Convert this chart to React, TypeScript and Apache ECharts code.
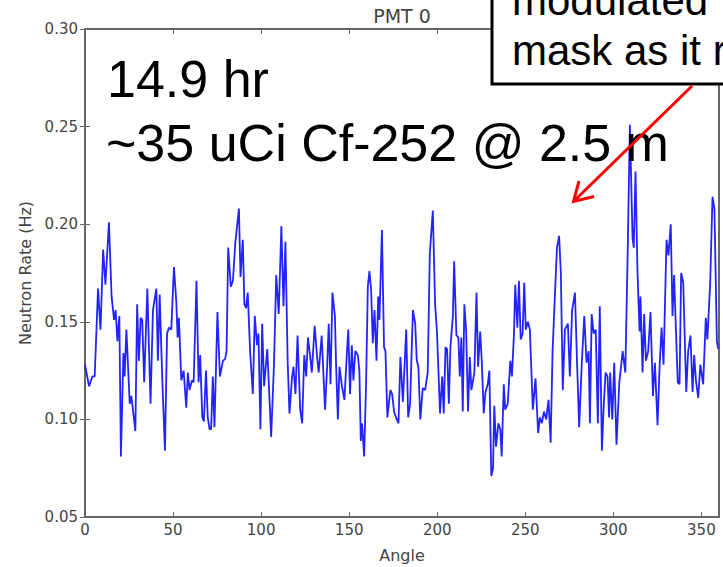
import React, { useEffect, useRef } from "react";
import * as echarts from "echarts";

// Angle (deg) and neutron rate (Hz)
const angles: number[] = [
  0, 2.3, 4.2, 5.5, 7.4, 8.8, 10.3, 11.6, 13.6, 15.1, 16.5, 17.4, 18.4, 19.5, 20.4, 21.8, 22.5, 23.5, 25.4, 26.3,
  28.6, 29.6, 30.6, 31.6, 32.5, 33.6, 35.4, 37.2, 38.6, 40.5, 41.4, 42.4, 43.9, 45.4, 46.6, 47.7, 49.0, 50.5, 51.8, 52.6,
  53.3, 54.7, 56.0, 57.5, 58.4, 59.4, 60.7, 61.7, 63.3, 64.5, 65.4, 66.6, 67.5, 68.7, 69.7, 70.7, 71.6, 72.6, 73.5, 75.2,
  76.6, 78.3, 79.6, 80.4, 81.3, 82.8, 84.0, 85.3, 87.4, 88.3, 89.6, 90.5, 91.5, 92.4, 93.8, 95.3, 96.4, 97.7, 98.5, 99.6,
  100.6, 101.7, 103.5, 105.7, 107.3, 108.6, 110.0, 111.5, 112.7, 113.8, 115.1, 116.1, 117.6, 118.4, 119.5, 120.7, 122.2, 123.3, 124.5, 125.6,
  126.6, 127.9, 128.8, 130.4, 131.8, 132.7, 134.4, 136.3, 137.5, 138.4, 139.4, 140.5, 141.9, 142.6, 143.6, 144.5, 145.9, 147.3, 148.7, 149.5,
  150.5, 151.5, 152.4, 153.5, 154.9, 155.8, 156.6, 157.3, 158.5, 159.6, 160.6, 161.5, 162.5, 163.4, 164.4, 165.5, 166.5, 167.2, 168.6, 169.8,
  170.6, 171.7, 173.4, 174.4, 175.5, 176.6, 178.0, 179.1, 180.5, 182.4, 183.5, 184.6, 186.2, 187.5, 188.4, 189.3, 190.4, 191.8, 193.1, 194.6,
  195.8, 197.5, 198.8, 199.9, 201.6, 202.8, 203.7, 204.7, 205.6, 206.6, 207.5, 208.9, 209.6, 210.9, 212.0, 212.8, 213.7, 214.5, 215.4, 216.4,
  217.5, 218.5, 219.4, 221.1, 222.3, 223.2, 224.4, 225.3, 226.4, 227.4, 228.7, 229.6, 230.7, 231.7, 232.4, 233.4, 234.7, 235.8, 236.6, 237.8,
  238.6, 240.0, 241.5, 242.4, 243.6, 244.3, 245.5, 246.4, 247.4, 248.5, 249.4, 250.3, 251.5, 252.6, 254.3, 255.8, 257.3, 258.3, 259.4, 260.6,
  261.9, 263.2, 264.4, 265.5, 266.8, 268.0, 269.2, 270.2, 271.3, 272.5, 274.2, 275.3, 276.6, 278.2, 279.3, 280.6, 282.1, 283.5, 284.8, 286.0,
  286.7, 287.7, 288.8, 290.0, 291.2, 292.3, 293.5, 294.6, 295.6, 296.7, 297.6, 298.2, 299.4, 300.5, 301.8, 303.4, 305.3, 306.8, 308.1, 309.4,
  310.9, 311.6, 312.6, 313.7, 314.9, 315.4, 316.6, 317.5, 318.5, 319.8, 321.1, 322.5, 323.6, 325.1, 326.3, 327.4, 328.5, 330.2, 331.3, 332.6,
  333.6, 334.5, 335.5, 336.6, 337.6, 338.5, 339.7, 341.4, 342.5, 343.8, 345.0, 345.9, 346.9, 348.2, 349.4, 351.0, 352.5, 353.4, 355.0, 356.3,
  357.4, 358.8, 359.6,
];

const rates: number[] = [
  0.128, 0.117, 0.122, 0.122, 0.167, 0.146, 0.187, 0.169, 0.201, 0.163, 0.151, 0.156, 0.140, 0.153, 0.081, 0.134, 0.122, 0.146, 0.108, 0.112,
  0.094, 0.159, 0.130, 0.152, 0.151, 0.119, 0.167, 0.108, 0.156, 0.167, 0.130, 0.164, 0.120, 0.084, 0.144, 0.147, 0.146, 0.178, 0.161, 0.142,
  0.152, 0.120, 0.125, 0.106, 0.124, 0.115, 0.120, 0.119, 0.171, 0.119, 0.133, 0.101, 0.099, 0.125, 0.101, 0.095, 0.095, 0.122, 0.096, 0.155,
  0.122, 0.130, 0.131, 0.135, 0.188, 0.168, 0.171, 0.190, 0.208, 0.173, 0.192, 0.159, 0.157, 0.165, 0.134, 0.113, 0.153, 0.138, 0.144, 0.095,
  0.149, 0.117, 0.136, 0.091, 0.128, 0.174, 0.154, 0.199, 0.158, 0.191, 0.129, 0.103, 0.122, 0.127, 0.113, 0.143, 0.105, 0.098, 0.133, 0.122,
  0.142, 0.132, 0.124, 0.148, 0.132, 0.124, 0.143, 0.105, 0.127, 0.149, 0.118, 0.165, 0.153, 0.127, 0.100, 0.127, 0.117, 0.110, 0.134, 0.146,
  0.113, 0.138, 0.120, 0.135, 0.133, 0.125, 0.089, 0.098, 0.081, 0.118, 0.168, 0.176, 0.166, 0.139, 0.156, 0.130, 0.163, 0.151, 0.197, 0.137,
  0.135, 0.101, 0.115, 0.113, 0.104, 0.101, 0.098, 0.132, 0.109, 0.146, 0.101, 0.108, 0.156, 0.149, 0.130, 0.127, 0.100, 0.116, 0.115, 0.124,
  0.185, 0.207, 0.159, 0.144, 0.103, 0.122, 0.103, 0.137, 0.136, 0.108, 0.137, 0.153, 0.181, 0.143, 0.142, 0.122, 0.142, 0.104, 0.159, 0.146,
  0.104, 0.132, 0.115, 0.124, 0.165, 0.127, 0.145, 0.130, 0.103, 0.114, 0.118, 0.125, 0.071, 0.075, 0.107, 0.086, 0.098, 0.095, 0.081, 0.118,
  0.105, 0.108, 0.130, 0.122, 0.144, 0.169, 0.147, 0.171, 0.141, 0.144, 0.170, 0.146, 0.150, 0.146, 0.105, 0.121, 0.093, 0.101, 0.098, 0.104,
  0.100, 0.110, 0.088, 0.135, 0.163, 0.188, 0.194, 0.175, 0.115, 0.146, 0.149, 0.122, 0.156, 0.165, 0.132, 0.096, 0.129, 0.153, 0.129, 0.135,
  0.098, 0.154, 0.144, 0.146, 0.098, 0.158, 0.084, 0.108, 0.124, 0.122, 0.101, 0.124, 0.100, 0.129, 0.087, 0.119, 0.135, 0.124, 0.183, 0.251,
  0.193, 0.188, 0.227, 0.176, 0.145, 0.163, 0.124, 0.154, 0.130, 0.135, 0.155, 0.112, 0.129, 0.097, 0.128, 0.147, 0.128, 0.192, 0.184, 0.200,
  0.153, 0.174, 0.147, 0.119, 0.118, 0.175, 0.170, 0.114, 0.135, 0.143, 0.114, 0.133, 0.120, 0.111, 0.128, 0.118, 0.152, 0.141, 0.170, 0.214,
  0.208, 0.140, 0.136,
];

const xTicks: number[] = [0, 50, 100, 150, 200, 250, 300, 350];
const yTicks: number[] = [0.05, 0.1, 0.15, 0.2, 0.25, 0.3];

const titleText = "PMT 0";
const xLabel = "Angle";
const yLabel = "Neutron Rate (Hz)";
const noteLines: string[] = ["14.9 hr", "~35 uCi Cf-252 @ 2.5 m"];
const boxLines: string[] = ["modulated", "mask as it rotates"];

const SANS = "'DejaVu Sans', sans-serif";
const ARIAL = "'Liberation Sans', Arial, sans-serif";

export default function App() {
  const ref = useRef<HTMLDivElement>(null);

  useEffect(() => {
    if (!ref.current) return;
    const chart = echarts.init(ref.current, undefined, { renderer: "svg" });
    const data = angles.map((a, i) => [a, rates[i]]);
    const axisColor = "#666";
    const textColor = "#444";

    const xCommon = {
      type: "value" as const,
      min: 0,
      max: 360,
      interval: 50,
      splitLine: { show: false },
      axisLine: { show: false },
    };
    const yCommon = {
      type: "value" as const,
      min: yTicks[0],
      max: yTicks[yTicks.length - 1],
      interval: 0.05,
      splitLine: { show: false },
      axisLine: { show: false },
    };

    chart.setOption({
      animation: false,
      grid: {
        left: 85,
        right: 4,
        top: 29,
        bottom: 50,
        show: true,
        borderColor: axisColor,
        borderWidth: 2,
        backgroundColor: "#fff",
      },
      xAxis: [
        {
          ...xCommon,
          position: "bottom",
          axisTick: { show: true, inside: true, length: 5, lineStyle: { color: axisColor, width: 1 } },
          axisLabel: {
            show: true,
            margin: 5,
            color: textColor,
            fontSize: 15,
            fontFamily: SANS,
            formatter: (v: number) => (xTicks.includes(v) ? String(v) : ""),
          },
        },
        {
          ...xCommon,
          position: "top",
          axisTick: { show: true, inside: true, length: 5, lineStyle: { color: axisColor, width: 1 } },
          axisLabel: { show: false },
        },
      ],
      yAxis: [
        {
          ...yCommon,
          position: "left",
          axisTick: { show: true, inside: true, length: 5, lineStyle: { color: axisColor, width: 1 } },
          axisLabel: {
            show: true,
            margin: 7,
            color: textColor,
            fontSize: 15,
            fontFamily: SANS,
            formatter: (v: number) => v.toFixed(2),
          },
        },
        {
          ...yCommon,
          position: "right",
          axisTick: { show: true, inside: true, length: 5, lineStyle: { color: axisColor, width: 1 } },
          axisLabel: { show: false },
        },
      ],
      series: [
        {
          type: "line",
          data,
          xAxisIndex: 0,
          yAxisIndex: 0,
          showSymbol: false,
          symbol: "none",
          lineStyle: { color: "#2323ff", width: 1.8 },
          z: 3,
        },
      ],
      graphic: [
        {
          type: "text",
          x: 402,
          y: 16,
          style: {
            text: titleText,
            fill: textColor,
            font: `19px ${SANS}`,
            align: "center",
            verticalAlign: "middle",
          },
          z: 20,
        },
        {
          type: "text",
          x: 402,
          y: 555,
          style: {
            text: xLabel,
            fill: textColor,
            font: `16px ${SANS}`,
            align: "center",
            verticalAlign: "middle",
          },
          z: 20,
        },
        {
          type: "text",
          x: 25,
          y: 273,
          rotation: Math.PI / 2,
          style: {
            text: yLabel,
            fill: textColor,
            font: `16px ${SANS}`,
            align: "center",
            verticalAlign: "middle",
          },
          z: 20,
        },
        {
          type: "text",
          x: 107,
          y: 79,
          style: {
            text: noteLines[0],
            fill: "#000",
            font: `52px ${ARIAL}`,
            align: "left",
            verticalAlign: "middle",
          },
          z: 30,
        },
        {
          type: "text",
          x: 106,
          y: 143,
          style: {
            text: noteLines[1],
            fill: "#000",
            font: `52px ${ARIAL}`,
            align: "left",
            verticalAlign: "middle",
          },
          z: 30,
        },
        {
          type: "rect",
          shape: { x: 492, y: -10, width: 320, height: 94 },
          style: { fill: "#fff", stroke: "#000", lineWidth: 3 },
          z: 40,
        },
        {
          type: "text",
          x: 512,
          y: 0,
          style: {
            text: boxLines[0],
            fill: "#000",
            font: `42px ${ARIAL}`,
            align: "left",
            verticalAlign: "middle",
          },
          z: 41,
        },
        {
          type: "text",
          x: 512,
          y: 50,
          style: {
            text: boxLines[1],
            fill: "#000",
            font: `42px ${ARIAL}`,
            align: "left",
            verticalAlign: "middle",
          },
          z: 41,
        },
        {
          type: "line",
          shape: { x1: 692, y1: 86, x2: 574, y2: 201 },
          style: { stroke: "#ff0000", lineWidth: 3 },
          z: 42,
        },
        {
          type: "polyline",
          shape: { points: [[594, 196.5], [573.5, 201.5], [579, 181]] },
          style: { stroke: "#ff0000", lineWidth: 3, fill: null },
          z: 42,
        },
      ],
    });
    return () => chart.dispose();
  }, []);

  return (
    <div
      ref={ref}
      style={{ position: "fixed", left: 0, top: 0, width: 723, height: 567, overflow: "hidden", background: "#fff" }}
    />
  );
}
